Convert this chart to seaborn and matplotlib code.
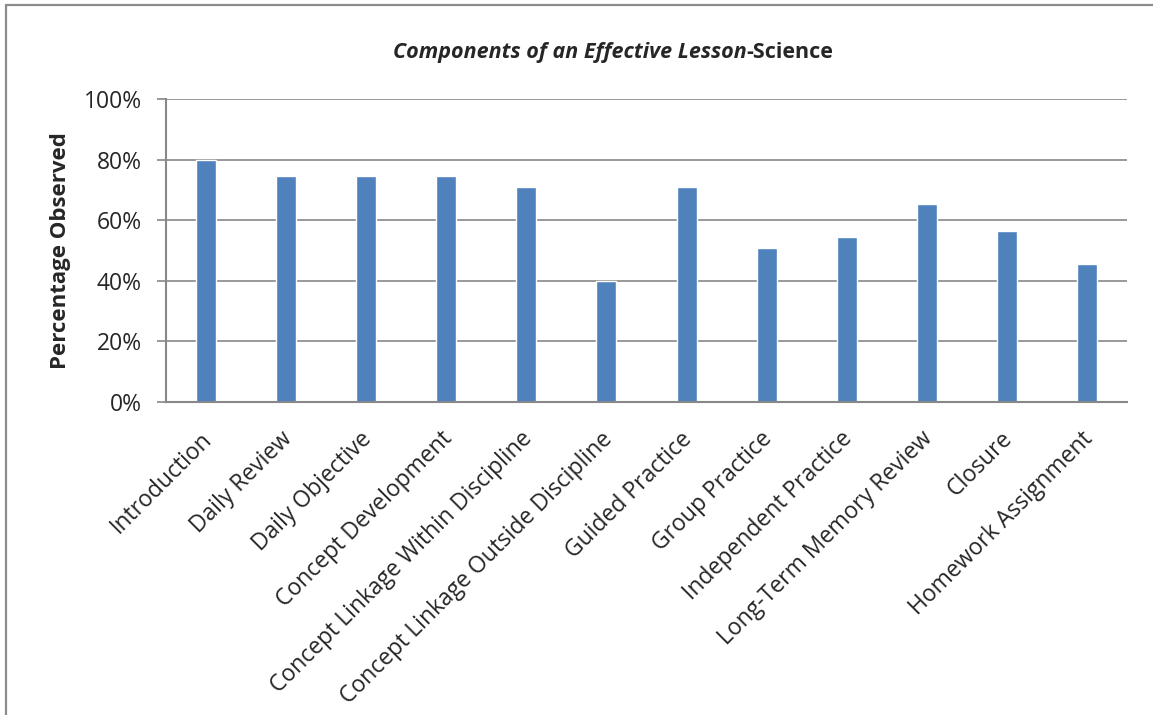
import matplotlib
matplotlib.use("Agg")
import matplotlib.pyplot as plt
import matplotlib.lines as mlines
import matplotlib.transforms as mtransforms
import seaborn as sns
import pandas as pd
from matplotlib.ticker import PercentFormatter

components = [
    "Introduction", "Daily Review", "Daily Objective", "Concept Development",
    "Concept Linkage Within Discipline", "Concept Linkage Outside Discipline",
    "Guided Practice", "Group Practice", "Independent Practice",
    "Long-Term Memory Review", "Closure", "Homework Assignment",
]
percent_observed = [80.0, 74.5, 74.5, 74.5, 70.9, 40.0, 70.9, 50.9, 54.5, 65.5, 56.4, 45.5]
y_ticks = [0, 20, 40, 60, 80, 100]

title_italic = "Components of an Effective Lesson"
title_plain = "-Science"
y_label = "Percentage Observed"

sns.set_style("white")
plt.rcParams["font.family"] = ["Open Sans", "DejaVu Sans"]

W, H, DPI = 1153, 715, 100
fig = plt.figure(figsize=(W / DPI, H / DPI), dpi=DPI)
ax = fig.add_axes([166 / W, 1 - 402 / H, (1127 - 166) / W, (402 - 99) / H])

df = pd.DataFrame({"component": components, "pct": percent_observed})
sns.barplot(data=df, x="component", y="pct", color="#4F81BD", saturation=1,
            width=0.25, ax=ax, zorder=3)

grid_c = "#888888"
ax.set_xlim(-0.5, len(components) - 0.5)
ax.set_ylim(0, 100)
ax.set_yticks(y_ticks)
ax.yaxis.set_major_formatter(PercentFormatter(decimals=0))
ax.yaxis.grid(True, color=grid_c, linewidth=1.2, zorder=0)
ax.set_axisbelow(True)
for s in ["top", "right"]:
    ax.spines[s].set_visible(False)
for s in ["left", "bottom"]:
    ax.spines[s].set_color(grid_c)
    ax.spines[s].set_linewidth(1.5)
    ax.spines[s].set_zorder(4)

ax.tick_params(axis="y", direction="out", length=6.5, width=1.2, color=grid_c,
               labelsize=16.5, pad=11, left=True)
ax.tick_params(axis="x", length=0, labelsize=16.5, pad=18)
ax.set_xlabel("")
ax.set_ylabel(y_label, fontsize=16, fontweight="bold")
ax.yaxis.set_label_coords(-(166 - 71) / (1127 - 166), 0.5)

ax.set_xticks(range(len(components)))
ax.set_xticklabels(components, rotation=45, ha="right", rotation_mode="anchor")
shift = mtransforms.ScaledTranslation(-6 / DPI, 0, fig.dpi_scale_trans)
for lbl in ax.get_xticklabels():
    lbl.set_transform(lbl.get_transform() + shift)

# Two-part title: bold italic main text followed by bold suffix
renderer = fig.canvas.get_renderer()
t1 = fig.text(0, 1 - 58 / H, title_italic, fontsize=15.5, fontweight="bold",
              fontstyle="italic", ha="left", va="baseline")
t2 = fig.text(0, 1 - 58 / H, title_plain, fontsize=15.5, fontweight="bold",
              ha="left", va="baseline")
w1 = t1.get_window_extent(renderer).width
w2 = t2.get_window_extent(renderer).width
x0 = 613 - (w1 + w2) / 2
t1.set_x(x0 / W)
t2.set_x((x0 + w1) / W)

# Chart frame (top and left edges)
frame_c = "#8c8c8c"
fig.add_artist(mlines.Line2D([6 / W, 1], [1 - 5 / H, 1 - 5 / H], color=frame_c,
                             linewidth=1.6, transform=fig.transFigure))
fig.add_artist(mlines.Line2D([6 / W, 6 / W], [0, 1 - 5 / H], color=frame_c,
                             linewidth=1.6, transform=fig.transFigure))

fig.savefig("out.png", dpi=DPI, facecolor="white")
